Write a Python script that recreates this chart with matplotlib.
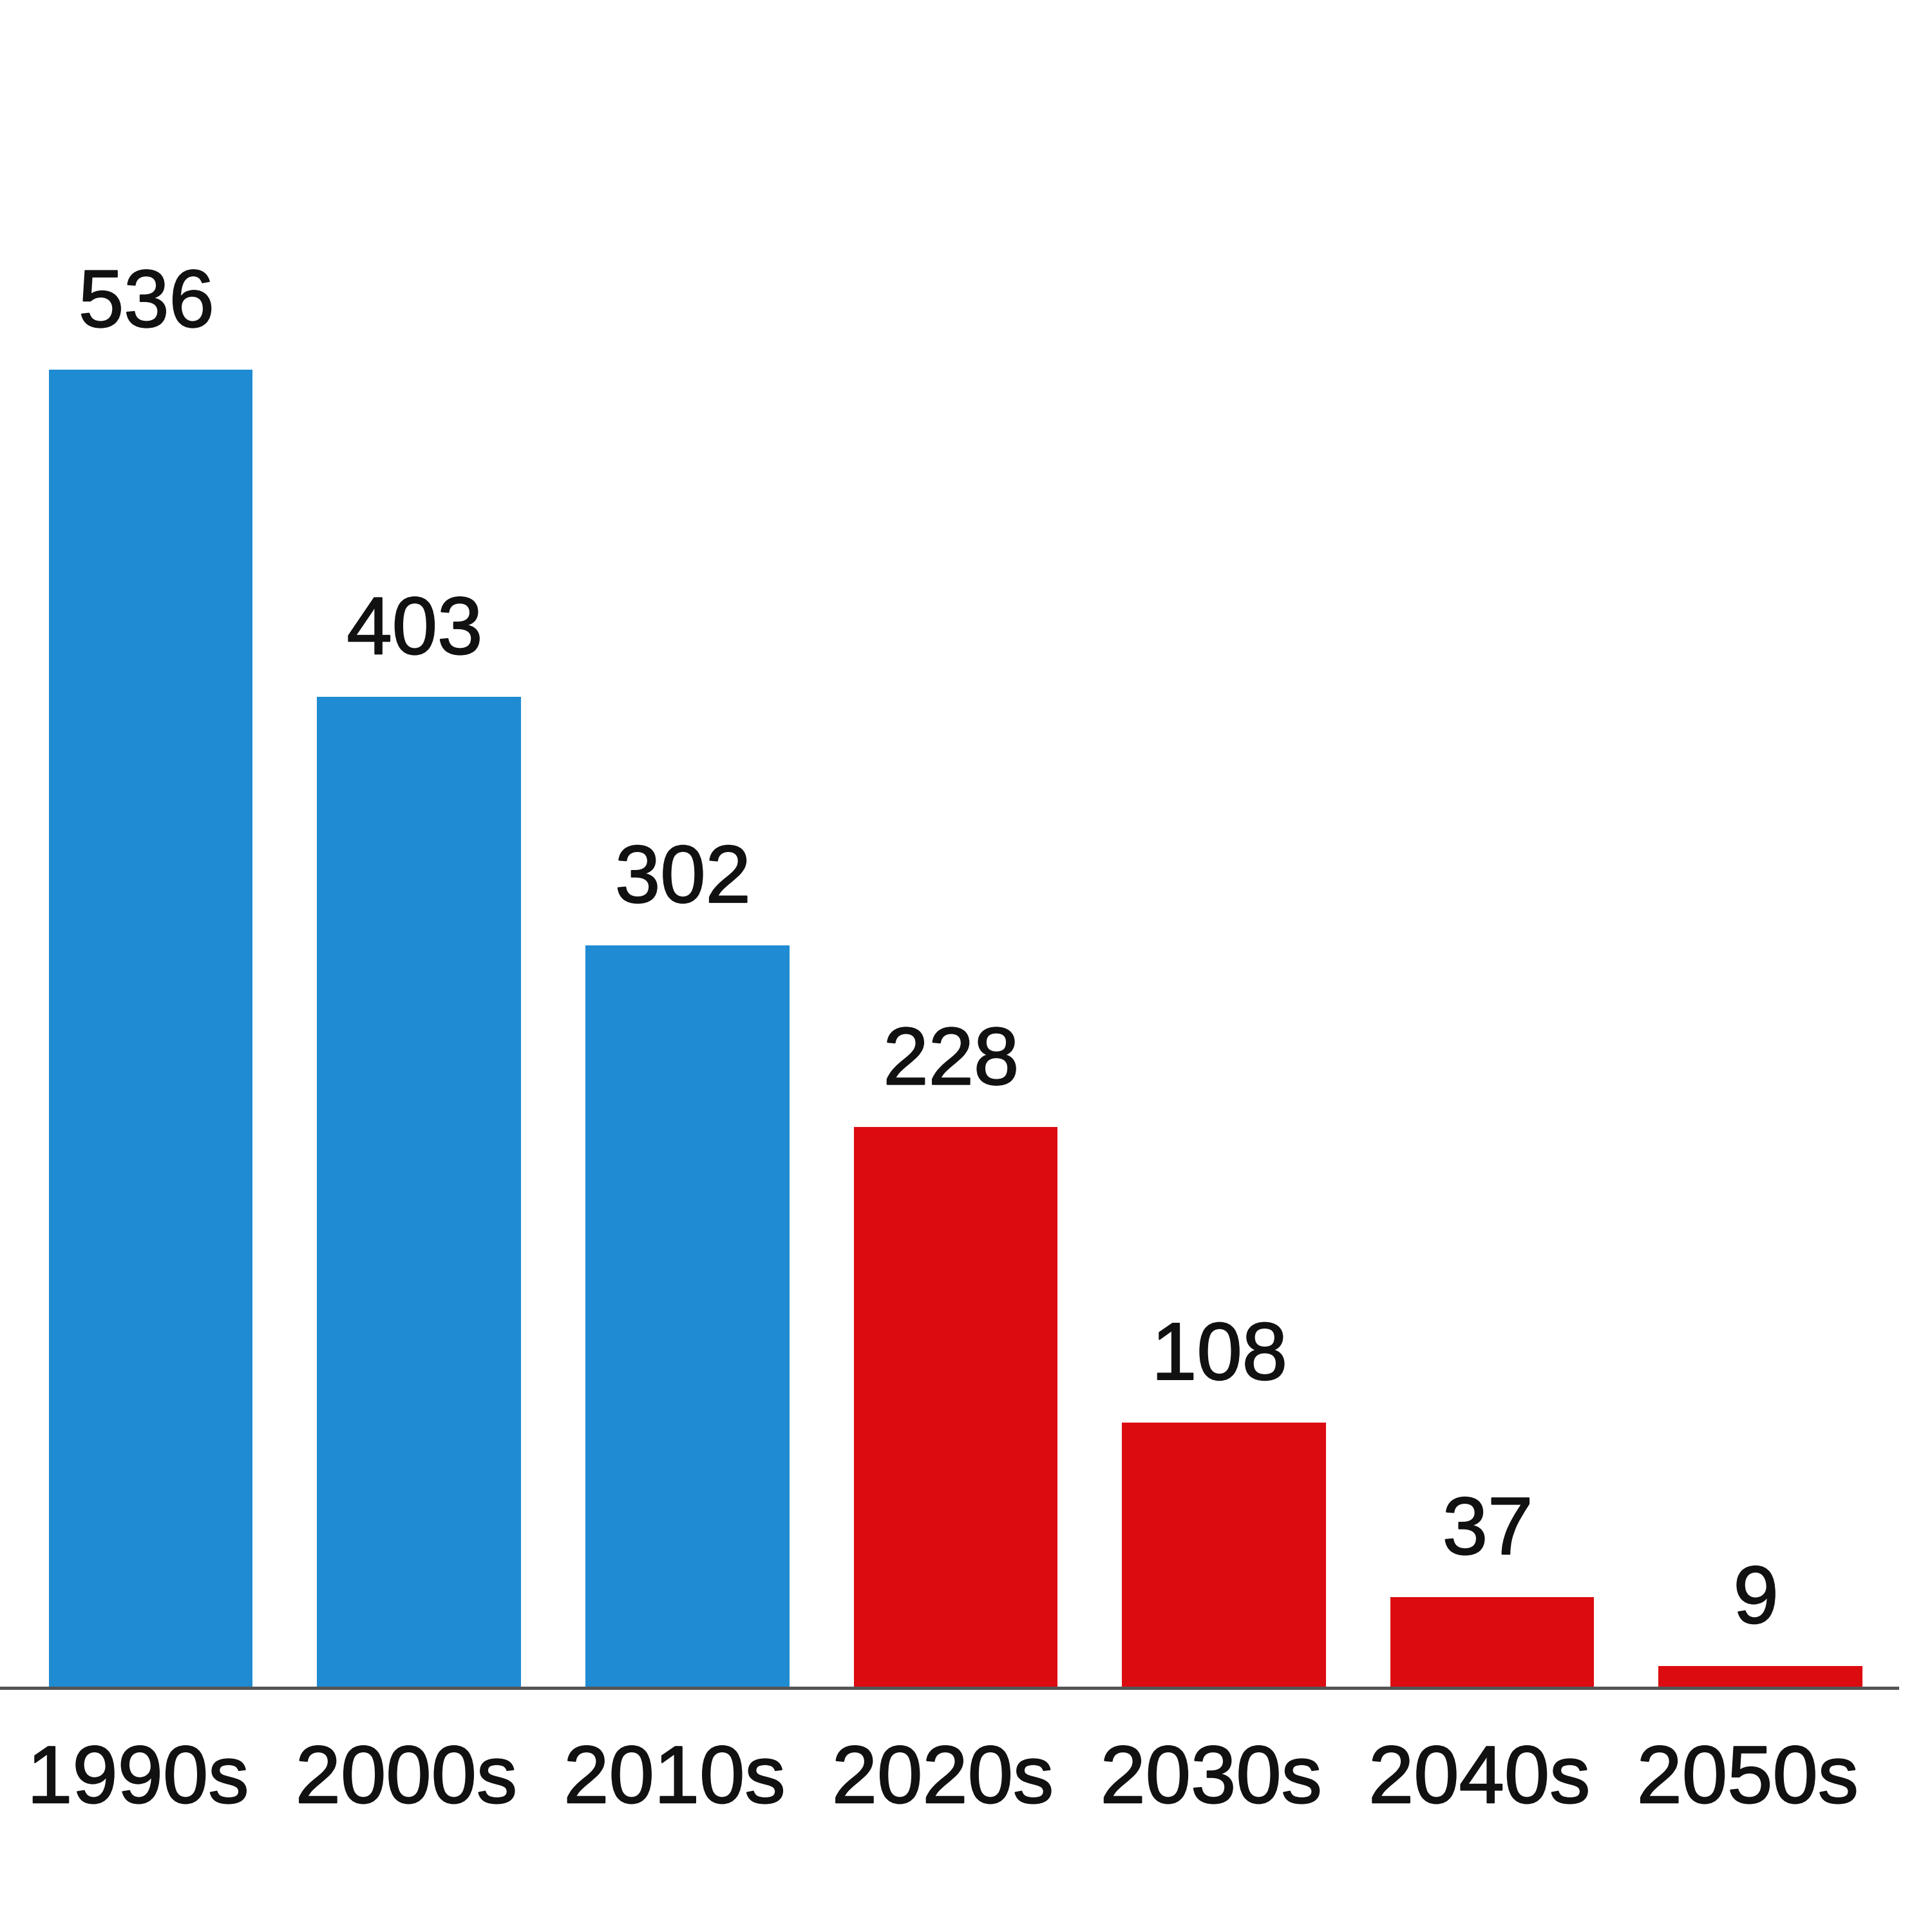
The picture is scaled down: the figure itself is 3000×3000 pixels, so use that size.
import matplotlib
matplotlib.use("Agg")
import matplotlib.pyplot as plt
import matplotlib.transforms as mtransforms
import matplotlib.patheffects as pe

decades = ["1990s", "2000s", "2010s", "2020s", "2030s", "2040s", "2050s"]
values = [536, 403, 302, 228, 108, 37, 9]
colors = ["#1f8bd2", "#1f8bd2", "#1f8bd2", "#dc0b10", "#dc0b10", "#dc0b10", "#dc0b10"]

plt.rcParams['font.family'] = ['Liberation Sans', 'DejaVu Sans']

fig = plt.figure(figsize=(30, 30), dpi=100)
ax = fig.add_axes([0.0, 0.1263, 0.982, 0.8737])

x = list(range(len(decades)))
ax.bar(x, values, width=0.76, color=colors, zorder=2)

heavy = [pe.withStroke(linewidth=1.5, foreground='#111111')]

for xi, v in zip(x, values):
    ax.annotate(str(v), (xi, v), xytext=(-5, 48), textcoords='offset points',
                ha='center', va='baseline', fontsize=91, color='#111111',
                path_effects=heavy)

ax.set_xlim(-0.562, 6.51)
ax.set_ylim(0, 686.3)
ax.set_xticks(x)
ax.set_xticklabels(decades, fontsize=91, color='#111111')
ax.tick_params(axis='x', length=0, pad=62)
shift = mtransforms.ScaledTranslation(-0.2, 0, fig.dpi_scale_trans)
for lab in ax.get_xticklabels():
    lab.set_transform(lab.get_transform() + shift)
    lab.set_path_effects(heavy)
ax.set_yticks([])
for s in ['top', 'right', 'left']:
    ax.spines[s].set_visible(False)
ax.spines['bottom'].set_color('#555555')
ax.spines['bottom'].set_linewidth(3.6)
ax.spines['bottom'].set_zorder(3)

plt.savefig("out.png", dpi=100, facecolor='white')
